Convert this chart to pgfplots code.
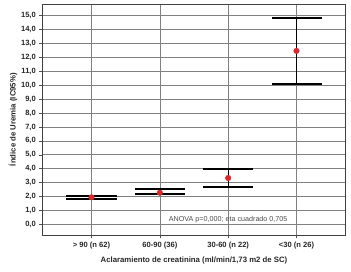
\documentclass[border=0pt]{standalone}
\usepackage{fontspec}
\setmainfont{Liberation Sans}
\usepackage{pgfplots}
\pgfplotsset{compat=1.18}
\definecolor{meanred}{RGB}{220,40,45}
\begin{document}
\begin{tikzpicture}
\useasboundingbox (-42.3bp,-36.7bp) rectangle (308.7bp,235.3bp);
\begin{axis}[
  scale only axis,
  width=303.4bp, height=231.3bp,
  xmin=-0.72, xmax=3.72,
  ymin=-0.79, ymax=15.84,
  xtick={0,1,2,3},
  xticklabels={{> 90 (n 62)},{60-90 (36)},{30-60 (n 22)},{<30 (n 26)}},
  ytick={0,1,...,15},
  yticklabel={\bfseries\pgfmathprintnumber[fixed, fixed zerofill, precision=1, use comma, assume math mode=true]{\tick}},
  ticklabel style={font=\fontsize{7.6}{8}\selectfont\bfseries, text=black!85},
  tick align=outside,
  major tick length=3bp,
  tick style={black!70, line width=0.5pt},
  grid=major,
  major grid style={black!50, line width=0.6pt},
  axis line style={black!75, line width=0.6pt},
  xtick pos=bottom, ytick pos=left,
  xlabel={Aclaramiento de creatinina (ml/min/1,73 m2 de SC)},
  ylabel={Índice de Uremia (IC95\%)},
  every axis x label/.style={at={(axis description cs:0.5,-0.107)}, anchor=center, font=\fontsize{7.8}{8}\selectfont\bfseries, text=black!85},
  every axis y label/.style={at={(axis description cs:-0.097,0.5)}, rotate=90, anchor=center, font=\fontsize{7.8}{8}\selectfont\bfseries, text=black!85},
  clip=false,
]
\addplot[only marks, mark=*, mark size=2.8bp, color=meanred,
  error bars/.cd, y dir=both, y explicit,
  error bar style={black, line width=1.1pt},
  error mark options={rotate=90, black, mark size=25bp, line width=1.9bp}]
  coordinates {
    (0,1.94) += (0,0.12) -= (0,0.12)
    (1,2.27) += (0,0.27) -= (0,0.11)
    (2,3.33) += (0,0.65) -= (0,0.62)
    (3,12.47) += (0,2.39) -= (0,2.38)
  };
\node[font=\fontsize{7.2}{8}\selectfont, text=black!70] at (axis cs:2.0,0.36) {ANOVA p=0,000; eta cuadrado 0,705};
\end{axis}
\end{tikzpicture}
\end{document}
